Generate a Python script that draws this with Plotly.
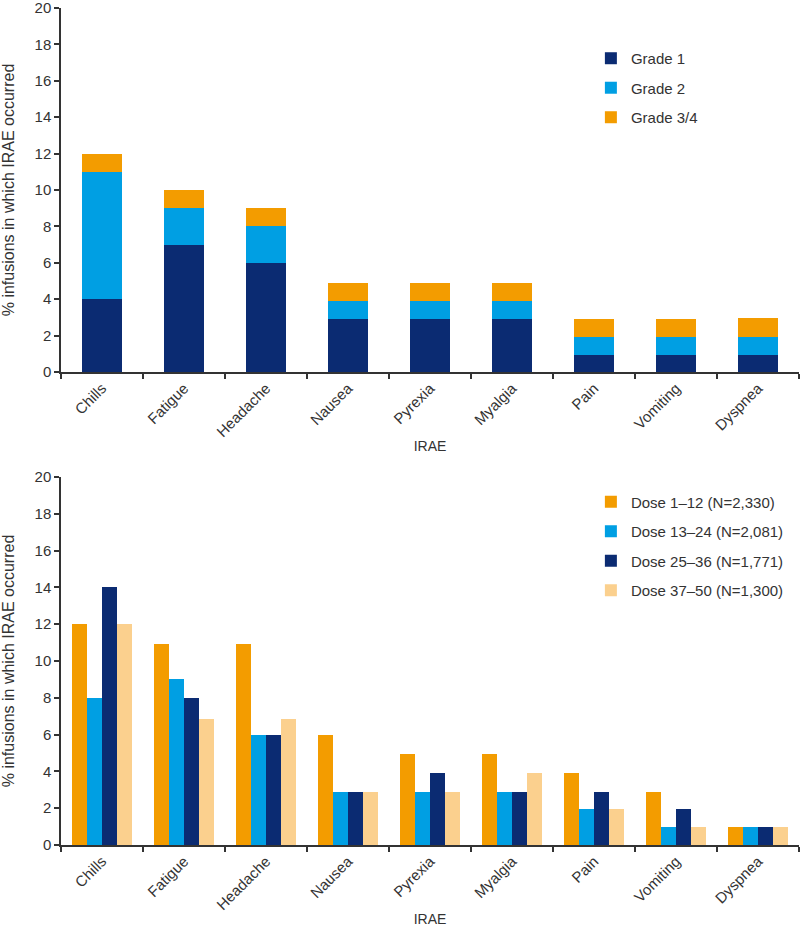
import plotly.graph_objects as go

events = ['Chills', 'Fatigue', 'Headache', 'Nausea', 'Pyrexia', 'Myalgia', 'Pain', 'Vomiting', 'Dyspnea']

# top panel: stacked by grade
grade1 = [4, 7, 6, 2.9, 2.9, 2.9, 0.95, 0.95, 0.95]
grade2 = [7, 2, 2, 1, 1, 1, 0.95, 1, 1]
grade34 = [1, 1, 1, 1, 1, 1, 1, 0.95, 1]

# bottom panel: grouped by dose range
dose_1_12 = [12, 10.95, 10.95, 6, 4.95, 4.95, 3.93, 2.9, 0.98]
dose_13_24 = [8, 9, 6, 2.9, 2.9, 2.9, 1.97, 0.98, 0.98]
dose_25_36 = [14, 8, 6, 2.9, 3.93, 2.9, 2.9, 1.97, 0.98]
dose_37_50 = [12, 6.85, 6.85, 2.9, 2.9, 3.93, 1.97, 0.98, 0.98]

NAVY = '#0b2b72'
BLUE = '#009fe3'
ORANGE = '#f39c00'
PEACH = '#fbd08e'
TXT = '#333333'
FONT = 'Liberation Sans, Arial, sans-serif'

fig = go.Figure()

top = [('Grade 1', grade1, NAVY), ('Grade 2', grade2, BLUE), ('Grade 3/4', grade34, ORANGE)]
for name, vals, col in top:
    fig.add_trace(go.Bar(x=events, y=vals, name=name, marker_color=col, marker_line_width=0,
                         offsetgroup='stack', width=0.48, xaxis='x', yaxis='y',
                         legend='legend', legendgroup=name))

bottom = [('Dose 1\u201312 (N=2,330)', dose_1_12, ORANGE),
          ('Dose 13\u201324 (N=2,081)', dose_13_24, BLUE),
          ('Dose 25\u201336 (N=1,771)', dose_25_36, NAVY),
          ('Dose 37\u201350 (N=1,300)', dose_37_50, PEACH)]
for i, (name, vals, col) in enumerate(bottom):
    fig.add_trace(go.Bar(x=events, y=vals, name=name, marker_color=col, marker_line_width=0,
                         offsetgroup='g%d' % i, xaxis='x2', yaxis='y2',
                         legend='legend2', legendgroup=name))

yax = dict(range=[0, 20], dtick=2, showgrid=False, zeroline=False, showline=True, automargin=False,
           linecolor=TXT, linewidth=1.5, ticks='outside', ticklen=5, tickcolor=TXT, tickwidth=1.5,
           tickfont=dict(size=15, color=TXT), ticklabeloverflow='allow',
           title=dict(text='% infusions in which IRAE occurred', font=dict(size=16, color=TXT), standoff=16))
xax = dict(showgrid=False, showline=True, linecolor=TXT, linewidth=1.5, ticks='outside', automargin=False,
           tickson='boundaries', ticklen=5, tickcolor=TXT, tickwidth=1.5, tickangle=-45,
           tickfont=dict(size=15, color=TXT),
           title=dict(text='IRAE', font=dict(size=14, color=TXT), standoff=2))

leg = dict(bgcolor='rgba(0,0,0,0)', font=dict(size=15, color=TXT), tracegroupgap=7,
           traceorder='grouped', xanchor='left', yanchor='top', itemwidth=30)

fig.update_layout(
    width=800, height=931,
    margin=dict(l=61, r=1, t=8, b=86),
    paper_bgcolor='white', plot_bgcolor='white',
    font=dict(family=FONT, color=TXT),
    barmode='stack', bargap=0.28,
    xaxis=dict(xax, domain=[0, 1], anchor='y'),
    yaxis=dict(yax, domain=[0.5651, 1], anchor='x'),
    xaxis2=dict(xax, domain=[0, 1], anchor='y2'),
    yaxis2=dict(yax, domain=[0, 0.4397], anchor='x2'),
    legend=dict(leg, x=0.718, y=0.9594),
    legend2=dict(leg, x=0.718, y=0.4295),
)

fig.write_html('out.html', config={'displayModeBar': False},
               post_script="document.body.style.margin='0';")
